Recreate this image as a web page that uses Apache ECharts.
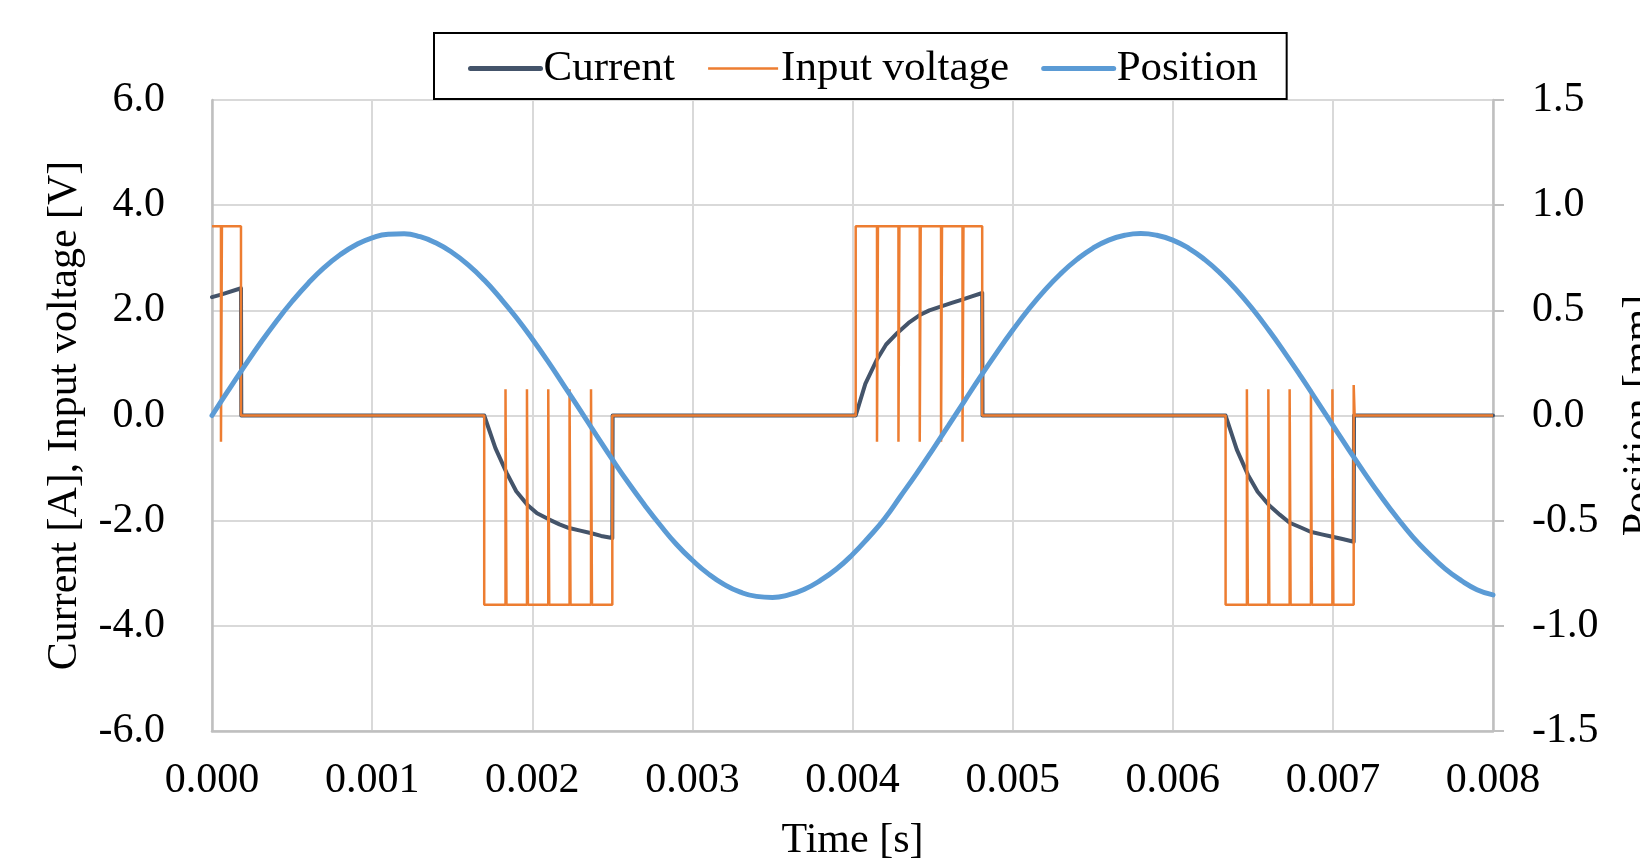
<!DOCTYPE html>
<html>
<head>
<meta charset="utf-8">
<script src="https://cdn.jsdelivr.net/npm/echarts@6/dist/echarts.min.js"></script>
<style>
  html, body { margin: 0; padding: 0; background: #fff; }
  #main { width: 1640px; height: 861px; }
</style>
</head>
<body>
<div id="main"></div>
<script>
// time axis ticks [s]
var timeTicks = [0, 0.001, 0.002, 0.003, 0.004, 0.005, 0.006, 0.007, 0.008];

// Position [mm], read every 0.1 ms
var posTime = [
  0, 0.0001, 0.0002, 0.0003, 0.0004, 0.0005, 0.0006, 0.0007, 0.0008, 0.0009,
  0.0010, 0.0011, 0.0012, 0.0013, 0.0014, 0.0015, 0.0016, 0.0017, 0.0018, 0.0019,
  0.0020, 0.0021, 0.0022, 0.0023, 0.0024, 0.0025, 0.0026, 0.0027, 0.0028, 0.0029,
  0.0030, 0.0031, 0.0032, 0.0033, 0.0034, 0.0035, 0.0036, 0.0037, 0.0038, 0.0039,
  0.0040, 0.0041, 0.0042, 0.0043, 0.0044, 0.0045, 0.0046, 0.0047, 0.0048, 0.0049,
  0.0050, 0.0051, 0.0052, 0.0053, 0.0054, 0.0055, 0.0056, 0.0057, 0.0058, 0.0059,
  0.0060, 0.0061, 0.0062, 0.0063, 0.0064, 0.0065, 0.0066, 0.0067, 0.0068, 0.0069,
  0.0070, 0.0071, 0.0072, 0.0073, 0.0074, 0.0075, 0.0076, 0.0077, 0.0078, 0.0079,
  0.0080
];
var posValue = [
  0, 0.117, 0.231, 0.342, 0.446, 0.542, 0.628, 0.703, 0.764, 0.812,
  0.845, 0.862, 0.864, 0.850, 0.820, 0.775, 0.716, 0.644, 0.559, 0.466,
  0.364, 0.255, 0.140, 0.024, -0.093, -0.209, -0.320, -0.424, -0.522, -0.612,
  -0.688, -0.753, -0.804, -0.840, -0.860, -0.865, -0.853, -0.826, -0.784, -0.730,
  -0.661, -0.580, -0.491, -0.384, -0.276, -0.163, -0.047, 0.070, 0.186, 0.298,
  0.405, 0.505, 0.595, 0.674, 0.741, 0.795, 0.834, 0.857, 0.865, 0.857,
  0.834, 0.795, 0.741, 0.674, 0.595, 0.505, 0.405, 0.298, 0.186, 0.070,
  -0.047, -0.163, -0.276, -0.384, -0.485, -0.578, -0.657, -0.728, -0.784, -0.828,
  -0.853
];

// Current [A]
var curTime = [
  0, 0.000056, 0.000181, 0.000183,
  0.00170, 0.00177, 0.00184, 0.00190, 0.00197, 0.00203, 0.00210, 0.00217, 0.00223, 0.00230, 0.00237, 0.00243, 0.00250, 0.002502,
  0.00402, 0.00408, 0.00415, 0.00421, 0.00428, 0.00435, 0.00442, 0.00448, 0.00455, 0.00462, 0.00468, 0.00475, 0.00481, 0.004812,
  0.00633, 0.00640, 0.00647, 0.00653, 0.00660, 0.00667, 0.00673, 0.00680, 0.00686, 0.00693, 0.00699, 0.00706, 0.00713, 0.007132,
  0.0080
];
var curValue = [
  2.25, 2.30, 2.42, 0,
  0, -0.62, -1.09, -1.44, -1.70, -1.86, -1.97, -2.07, -2.14, -2.19, -2.24, -2.29, -2.33, 0,
  0, 0.60, 1.05, 1.35, 1.57, 1.76, 1.91, 2.00, 2.07, 2.14, 2.20, 2.27, 2.33, 0,
  0, -0.65, -1.13, -1.45, -1.70, -1.89, -2.04, -2.13, -2.21, -2.26, -2.30, -2.35, -2.40, 0,
  0
];

// Input voltage [V] (PWM steps)
var voltTime = [
  0, 0.000056, 0.000056, 0.000062, 0.000062, 0.000181, 0.000181,
  0.00170, 0.00170,
  0.001833, 0.001833, 0.001839, 0.001839,
  0.001967, 0.001967, 0.001973, 0.001973,
  0.002100, 0.002100, 0.002106, 0.002106,
  0.002233, 0.002233, 0.002239, 0.002239,
  0.002367, 0.002367, 0.002373, 0.002373,
  0.00250, 0.00250,
  0.00402, 0.00402,
  0.004153, 0.004153, 0.004159, 0.004159,
  0.004287, 0.004287, 0.004293, 0.004293,
  0.004420, 0.004420, 0.004426, 0.004426,
  0.004553, 0.004553, 0.004559, 0.004559,
  0.004687, 0.004687, 0.004693, 0.004693,
  0.00481, 0.00481,
  0.00633, 0.00633,
  0.006463, 0.006463, 0.006469, 0.006469,
  0.006597, 0.006597, 0.006603, 0.006603,
  0.006730, 0.006730, 0.006736, 0.006736,
  0.006863, 0.006863, 0.006869, 0.006869,
  0.006997, 0.006997, 0.007003, 0.007003,
  0.00713, 0.00713, 0.007136, 0.007136,
  0.0080
];
var voltValue = [
  3.6, 3.6, -0.5, -0.5, 3.6, 3.6, 0,
  0, -3.6,
  -3.6, 0.5, 0.5, -3.6,
  -3.6, 0.5, 0.5, -3.6,
  -3.6, 0.5, 0.5, -3.6,
  -3.6, 0.5, 0.5, -3.6,
  -3.6, 0.5, 0.5, -3.6,
  -3.6, 0,
  0, 3.6,
  3.6, -0.5, -0.5, 3.6,
  3.6, -0.5, -0.5, 3.6,
  3.6, -0.5, -0.5, 3.6,
  3.6, -0.5, -0.5, 3.6,
  3.6, -0.5, -0.5, 3.6,
  3.6, 0,
  0, -3.6,
  -3.6, 0.5, 0.5, -3.6,
  -3.6, 0.5, 0.5, -3.6,
  -3.6, 0.5, 0.5, -3.6,
  -3.6, 0.5, 0.5, -3.6,
  -3.6, 0.5, 0.5, -3.6,
  -3.6, 0.58, 0.58, 0,
  0
];

function pairs(xs, ys) {
  return xs.map(function (x, i) { return [x, ys[i]]; });
}

var font = 'Liberation Serif, Times New Roman, serif';
var gridColor = '#d9d9d9';
var axisColor = '#bfbfbf';

var chart = echarts.init(document.getElementById('main'), null, { renderer: 'canvas' });

var option = {
  backgroundColor: '#ffffff',
  animation: false,
  textStyle: { fontFamily: font, color: '#000' },
  legend: {
    left: 434,
    top: 33,
    padding: [14, 29, 9, 34],
    itemGap: 32,
    itemWidth: 70,
    itemHeight: 14,
    borderColor: '#000',
    borderWidth: 2,
    itemStyle: { opacity: 0 },
    textStyle: { fontFamily: font, fontSize: 43, color: '#000', padding: [0, 0, 0, -2] },
    data: [
      { name: 'Current', lineStyle: { width: 5, cap: 'round' } },
      { name: 'Input voltage', lineStyle: { width: 2.5 } },
      { name: 'Position', lineStyle: { width: 5, cap: 'round' } }
    ]
  },
  grid: { left: 212, right: 147, top: 100, bottom: 130, containLabel: false, outerBoundsMode: 'none' },
  xAxis: {
    type: 'value',
    min: timeTicks[0],
    max: timeTicks[timeTicks.length - 1],
    interval: 0.001,
    name: 'Time [s]',
    nameLocation: 'middle',
    nameGap: 89,
    nameTextStyle: { fontFamily: font, fontSize: 42, color: '#000' },
    axisLine: { show: true, onZero: false, lineStyle: { color: axisColor, width: 2.5 } },
    axisTick: { show: false },
    axisLabel: {
      margin: 29, fontFamily: font, fontSize: 42, color: '#000',
      formatter: function (v) { return v.toFixed(3); }
    },
    splitLine: { show: true, lineStyle: { color: gridColor, width: 2 } }
  },
  yAxis: [
    {
      type: 'value',
      min: -6, max: 6, interval: 2,
      name: 'Current [A], Input voltage [V]',
      nameLocation: 'middle',
      nameRotate: 90,
      nameGap: 126,
      nameTextStyle: { fontFamily: font, fontSize: 42, color: '#000' },
      axisLine: { show: true, onZero: false, lineStyle: { color: axisColor, width: 2.5 } },
      axisTick: { show: false },
      axisLabel: {
        margin: 47, fontFamily: font, fontSize: 42, color: '#000',
        formatter: function (v) { return v.toFixed(1); }
      },
      splitLine: { show: true, lineStyle: { color: gridColor, width: 2 } }
    },
    {
      type: 'value',
      position: 'right',
      min: -1.5, max: 1.5, interval: 0.5,
      name: 'Position [mm]',
      nameLocation: 'middle',
      nameRotate: 90,
      nameGap: 126,
      nameTextStyle: { fontFamily: font, fontSize: 42, color: '#000' },
      axisLine: { show: true, onZero: false, lineStyle: { color: axisColor, width: 2.5 } },
      axisTick: { show: true, inside: false, length: 11, lineStyle: { color: axisColor, width: 2 } },
      axisLabel: {
        margin: 39, fontFamily: font, fontSize: 42, color: '#000',
        formatter: function (v) { return v.toFixed(1); }
      },
      splitLine: { show: false }
    }
  ],
  series: [
    {
      name: 'Current',
      type: 'line',
      yAxisIndex: 0,
      showSymbol: false,
      symbol: 'none',
      color: '#44546a',
      lineStyle: { color: '#44546a', width: 4, cap: 'round', join: 'round' },
      data: pairs(curTime, curValue)
    },
    {
      name: 'Input voltage',
      type: 'line',
      yAxisIndex: 0,
      showSymbol: false,
      symbol: 'none',
      color: '#ed7d31',
      lineStyle: { color: '#ed7d31', width: 2.5 },
      data: pairs(voltTime, voltValue)
    },
    {
      name: 'Position',
      type: 'line',
      yAxisIndex: 1,
      showSymbol: false,
      symbol: 'none',
      smooth: true,
      color: '#5b9bd5',
      lineStyle: { color: '#5b9bd5', width: 5, cap: 'round' },
      data: pairs(posTime, posValue)
    }
  ]
};

chart.setOption(option);
</script>
</body>
</html>
